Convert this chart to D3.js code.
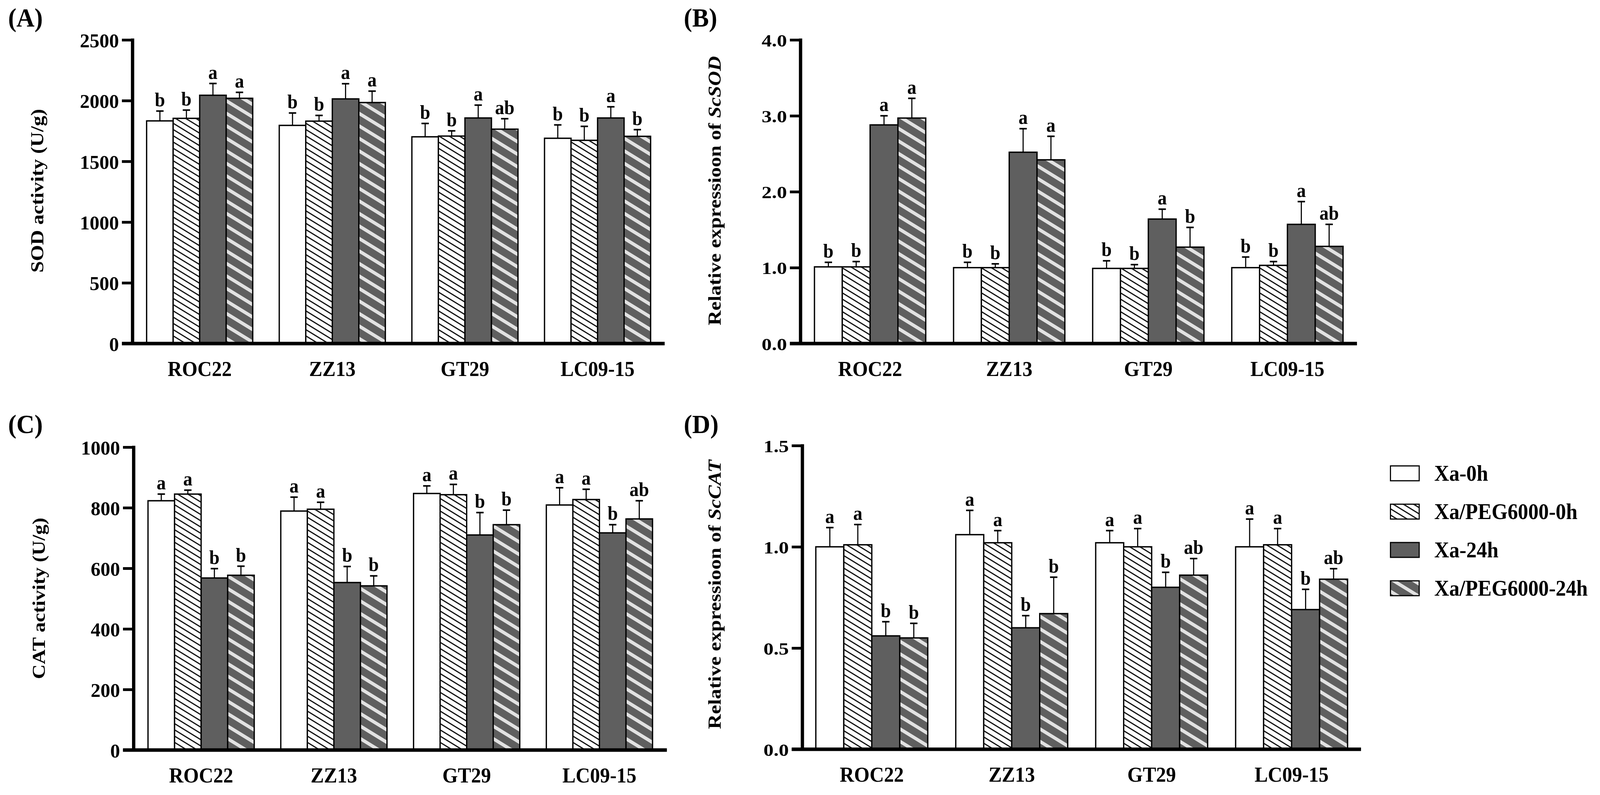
<!DOCTYPE html>
<html>
<head>
<meta charset="utf-8">
<script src="https://cdn.jsdelivr.net/npm/d3@7/dist/d3.min.js"></script>
<style>
  html, body { margin: 0; padding: 0; background: #fff; overflow: hidden; width: 100%; height: 100%; }
  #chart { display: block; width: 100vw; height: 100vh; }
  svg text { font-family: "Liberation Serif", "Times New Roman", serif; font-weight: bold; }
</style>
</head>
<body>
<svg id="chart" viewBox="0 0 4345 2034" preserveAspectRatio="none"></svg>
<script>
// ---------------- DATA ----------------
const categories = ["ROC22", "ZZ13", "GT29", "LC09-15"];
const seriesNames = ["Xa-0h", "Xa/PEG6000-0h", "Xa-24h", "Xa/PEG6000-24h"];

// (A) SOD activity (U/g): rows = categories, cols = series
const sodActivity = [[1833, 1854, 2044, 2019], [1796, 1831, 2014, 1984], [1702, 1708, 1857, 1765], [1690, 1673, 1857, 1706]];
const sodActivityErr = [[81, 68, 97, 49], [102, 47, 125, 94], [110, 43, 106, 86], [110, 115, 92, 55]];
const sodActivityLetters = [["b", "b", "a", "a"], ["b", "b", "a", "a"], ["b", "b", "a", "ab"], ["b", "b", "a", "b"]];
const sodActivityTicks = [0, 500, 1000, 1500, 2000, 2500];

// (B) Relative expression of ScSOD
const sodExpr = [[1.01, 1.01, 2.88, 2.97], [1.00, 1.00, 2.52, 2.42], [0.99, 0.99, 1.64, 1.27], [1.00, 1.03, 1.57, 1.28]];
const sodExprErr = [[0.06, 0.07, 0.12, 0.26], [0.07, 0.05, 0.31, 0.31], [0.10, 0.05, 0.13, 0.26], [0.14, 0.05, 0.30, 0.29]];
const sodExprLetters = [["b", "b", "a", "a"], ["b", "b", "a", "a"], ["b", "b", "a", "b"], ["b", "b", "a", "ab"]];
const sodExprTicks = [0, 1, 2, 3, 4];

// (C) CAT activity (U/g)
const catActivity = [[823, 845, 568, 577], [789, 795, 553, 542], [847, 843, 710, 744], [809, 827, 717, 763]];
const catActivityErr = [[22, 13, 31, 30], [46, 23, 53, 33], [25, 34, 74, 48], [57, 34, 27, 60]];
const catActivityLetters = [["a", "a", "b", "b"], ["a", "a", "b", "b"], ["a", "a", "b", "b"], ["a", "a", "b", "ab"]];
const catActivityTicks = [0, 200, 400, 600, 800, 1000];

// (D) Relative expression of ScCAT
const catExpr = [[1.00, 1.01, 0.56, 0.55], [1.06, 1.02, 0.60, 0.67], [1.02, 1.00, 0.80, 0.86], [1.00, 1.01, 0.69, 0.84]];
const catExprErr = [[0.095, 0.10, 0.07, 0.072], [0.12, 0.06, 0.06, 0.18], [0.06, 0.09, 0.074, 0.082], [0.137, 0.08, 0.10, 0.052]];
const catExprLetters = [["a", "a", "b", "b"], ["a", "a", "b", "b"], ["a", "a", "b", "ab"], ["a", "a", "b", "ab"]];
const catExprTicks = [0, 0.5, 1.0, 1.5];

// ---------------- DRAWING ----------------
const svg = d3.select("#chart");
const defs = svg.append("defs");

const DARK = "#5f5f5f", LIGHT = "#e2e2e2";

const p1 = defs.append("pattern").attr("id", "hatchThin")
  .attr("patternUnits", "userSpaceOnUse").attr("width", 40).attr("height", 16)
  .attr("patternTransform", "skewY(30)");
p1.append("rect").attr("width", 40).attr("height", 16).attr("fill", "#fff");
p1.append("rect").attr("y", 0).attr("width", 40).attr("height", 3.4).attr("fill", "#000");

const p2 = defs.append("pattern").attr("id", "hatchWide")
  .attr("patternUnits", "userSpaceOnUse").attr("width", 40).attr("height", 32)
  .attr("patternTransform", "skewY(30)");
p2.append("rect").attr("width", 40).attr("height", 32).attr("fill", DARK);
p2.append("rect").attr("y", 0).attr("width", 40).attr("height", 10).attr("fill", LIGHT);

const fills = ["#ffffff", "url(#hatchThin)", DARK, "url(#hatchWide)"];

function panel(cfg) {
  const g = svg.append("g");
  const y = d3.scaleLinear().domain([0, cfg.ymax]).range([cfg.y0, cfg.y1]);
  const x0 = d3.scaleBand().domain(categories).range([cfg.x0, cfg.x1])
    .paddingInner(0.2).paddingOuter(cfg.po);
  const x1 = d3.scaleBand().domain(seriesNames).range([0, x0.bandwidth()]).padding(0);

  categories.forEach((c, ci) => {
    const gg = g.append("g").attr("transform", `translate(${x0(c)},0)`);
    seriesNames.forEach((s, si) => {
      const v = cfg.values[ci][si];
      gg.append("rect")
        .attr("x", x1(s)).attr("width", x1.bandwidth())
        .attr("y", y(v)).attr("height", y(0) - y(v))
        .attr("fill", fills[si]).attr("stroke", "#000").attr("stroke-width", 3.5);
    });
    seriesNames.forEach((s, si) => {
      const v = cfg.values[ci][si];
      const top = v + cfg.errs[ci][si];
      const cx = x1(s) + x1.bandwidth() / 2;
      gg.append("line").attr("x1", cx).attr("x2", cx).attr("y1", y(v)).attr("y2", y(top))
        .attr("stroke", "#000").attr("stroke-width", 3);
      gg.append("line").attr("x1", cx - 10).attr("x2", cx + 10).attr("y1", y(top)).attr("y2", y(top))
        .attr("stroke", "#000").attr("stroke-width", 4);
      gg.append("text").attr("x", cx).attr("y", y(top) - 12)
        .attr("text-anchor", "middle").attr("font-size", 50)
        .text(cfg.letters[ci][si]);
    });
  });

  const ya = g.append("g").attr("transform", `translate(${cfg.x0},0)`)
    .call(d3.axisLeft(y).tickValues(cfg.ticks).tickFormat(cfg.fmt).tickSize(29).tickPadding(8).tickSizeOuter(0));
  ya.select(".domain").remove();
  ya.selectAll(".tick line").attr("stroke", "#000").attr("stroke-width", 7);
  ya.selectAll(".tick text")
    .attr("font-size", cfg.tickFont).attr("fill", "#000")
    .attr("x", -37 / cfg.sx).attr("dy", "0.36em")
    .attr("transform", `scale(${cfg.sx},1)`);
  g.append("line").attr("x1", cfg.x0).attr("x2", cfg.x0)
    .attr("y1", cfg.y1 - 3.5).attr("y2", cfg.y0)
    .attr("stroke", "#000").attr("stroke-width", 9);
  g.append("line").attr("x1", cfg.x0 - 29).attr("x2", cfg.x1)
    .attr("y1", cfg.y0).attr("y2", cfg.y0)
    .attr("stroke", "#000").attr("stroke-width", 9);

  const xa = g.append("g").attr("transform", `translate(0,${cfg.y0})`)
    .call(d3.axisBottom(x0).tickSize(0).tickPadding(0));
  xa.select(".domain").remove();
  xa.selectAll(".tick text").attr("font-size", 54).attr("fill", "#000")
    .attr("y", 0).attr("dy", 0).attr("transform", "translate(0,83)");

  const t = g.append("text")
    .attr("transform", `translate(${cfg.tx},${cfg.ty}) rotate(-90)`)
    .attr("text-anchor", "middle").attr("dy", "0.35em").attr("font-size", 50)
    .attr("textLength", cfg.tlen).attr("lengthAdjust", "spacingAndGlyphs");
  t.append("tspan").text(cfg.title);
  if (cfg.titleItalic) t.append("tspan").attr("font-style", "italic").text(cfg.titleItalic);

  g.append("text").attr("x", cfg.lx).attr("y", cfg.ly).attr("font-size", 68).text(cfg.label);
}

panel({ label: "(A)", lx: 22, ly: 68, values: sodActivity, errs: sodActivityErr, letters: sodActivityLetters,
  ticks: sodActivityTicks, fmt: d3.format("d"), ymax: 2500, x0: 360, x1: 1805, y0: 879, y1: 102, po: 0.106,
  tickFont: 51, sx: 1.04, title: "SOD activity (U/g)", tx: 100, ty: 488, tlen: 419 });

panel({ label: "(B)", lx: 1857, ly: 68, values: sodExpr, errs: sodExprErr, letters: sodExprLetters,
  ticks: sodExprTicks, fmt: d3.format(".1f"), ymax: 4, x0: 2174, x1: 3685, y0: 879, y1: 102, po: 0.1,
  tickFont: 45, sx: 1.22, title: "Relative expressioon of ", titleItalic: "ScSOD", tx: 1940, ty: 488, tlen: 689 });

panel({ label: "(C)", lx: 22, ly: 1108, values: catActivity, errs: catActivityErr, letters: catActivityLetters,
  ticks: catActivityTicks, fmt: d3.format("d"), ymax: 1000, x0: 363, x1: 1811, y0: 1919, y1: 1144, po: 0.108,
  tickFont: 51, sx: 1.04, title: "CAT activity (U/g)", tx: 104, ty: 1531, tlen: 413 });

panel({ label: "(D)", lx: 1857, ly: 1108, values: catExpr, errs: catExprErr, letters: catExprLetters,
  ticks: catExprTicks, fmt: d3.format(".1f"), ymax: 1.5, x0: 2179, x1: 3696, y0: 1917, y1: 1140, po: 0.096,
  tickFont: 45, sx: 1.22, title: "Relative expressioon of ", titleItalic: "ScCAT", tx: 1940, ty: 1521, tlen: 689 });

// legend
const legY = d3.scalePoint().domain(seriesNames).range([1211, 1505]);
const leg = svg.append("g");
seriesNames.forEach((s, i) => {
  leg.append("rect").attr("x", 3776).attr("y", legY(s) - 19).attr("width", 78).attr("height", 38)
    .attr("fill", fills[i]).attr("stroke", "#000").attr("stroke-width", 3);
  leg.append("text").attr("x", 3895).attr("y", legY(s) + 19)
    .attr("font-size", 56).text(s);
});
</script>
</body>
</html>
